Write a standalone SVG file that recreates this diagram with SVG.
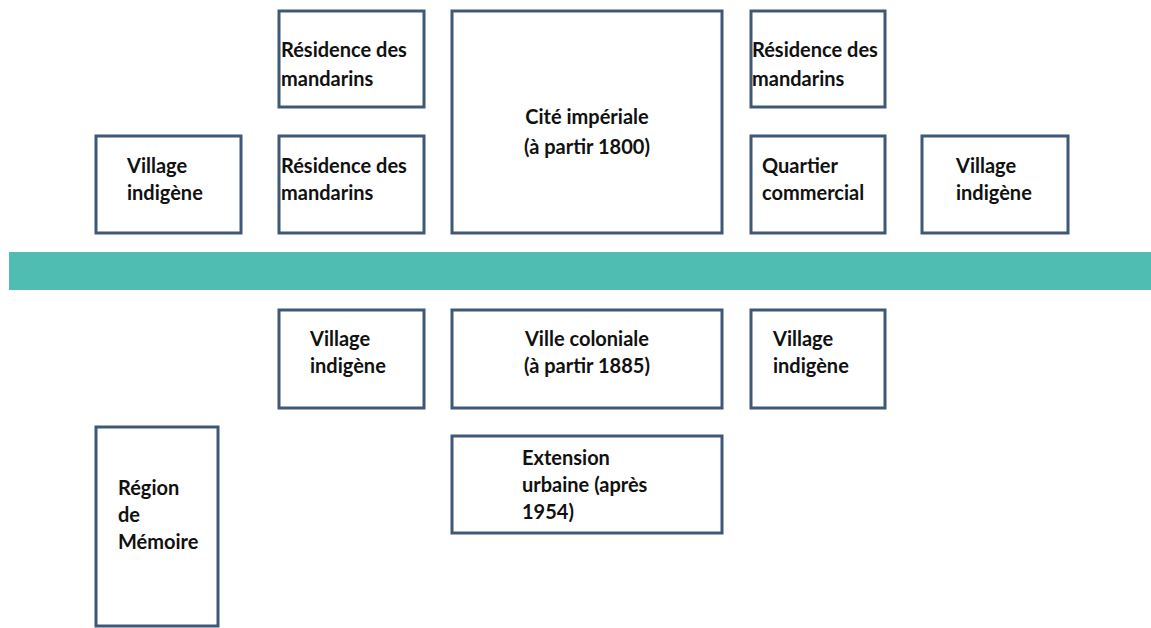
<svg xmlns="http://www.w3.org/2000/svg" width="1151" height="628" viewBox="0 0 1151 628">
<style>
.box{fill:#fff;stroke:#3f5877;stroke-width:3}
.t{font-family:Lato,"Liberation Sans",sans-serif;font-weight:bold;font-size:20px;fill:#111}
.c{text-anchor:middle}
</style>
<rect width="1151" height="628" fill="#fff"/>
<rect id="road" x="9" y="252" width="1142" height="38" fill="#50bdb2"/>
<g id="res1"><rect class="box" x="279" y="11" width="145" height="96"/>
<text class="t" x="281" y="57">Résidence des</text><text class="t" x="281" y="86">mandarins</text></g>
<g id="vil1"><rect class="box" x="96" y="136" width="145" height="97"/>
<text class="t" x="127" y="173">Village</text><text class="t" x="127" y="200">indigène</text></g>
<g id="res2"><rect class="box" x="279" y="136" width="145" height="97"/>
<text class="t" x="281" y="173">Résidence des</text><text class="t" x="281" y="200">mandarins</text></g>
<g id="cite"><rect class="box" x="452" y="11" width="270" height="222"/>
<text class="t c" x="587" y="124">Cité impériale</text><text class="t c" x="587" y="154">(à partir 1800)</text></g>
<g id="res3"><rect class="box" x="751" y="11" width="134" height="96"/>
<text class="t" x="752" y="57">Résidence des</text><text class="t" x="752" y="86">mandarins</text></g>
<g id="quart"><rect class="box" x="751" y="136" width="134" height="97"/>
<text class="t" x="762" y="173">Quartier</text><text class="t" x="762" y="200">commercial</text></g>
<g id="vil2"><rect class="box" x="922" y="136" width="146" height="97"/>
<text class="t" x="956" y="173">Village</text><text class="t" x="956" y="200">indigène</text></g>
<g id="vil3"><rect class="box" x="279" y="310" width="145" height="98"/>
<text class="t" x="310" y="346">Village</text><text class="t" x="310" y="373">indigène</text></g>
<g id="ville"><rect class="box" x="452" y="310" width="270" height="98"/>
<text class="t c" x="587" y="346">Ville coloniale</text><text class="t c" x="587" y="373">(à partir 1885)</text></g>
<g id="vil4"><rect class="box" x="751" y="310" width="134" height="98"/>
<text class="t" x="773" y="346">Village</text><text class="t" x="773" y="373">indigène</text></g>
<g id="ext"><rect class="box" x="452" y="436" width="270" height="97"/>
<text class="t" x="522" y="465">Extension</text><text class="t" x="522" y="492">urbaine (après</text><text class="t" x="522" y="519">1954)</text></g>
<g id="region"><rect class="box" x="96" y="427" width="122" height="199"/>
<text class="t" x="118" y="495">Région</text><text class="t" x="118" y="522">de</text><text class="t" x="118" y="549">Mémoire</text></g>
</svg>
